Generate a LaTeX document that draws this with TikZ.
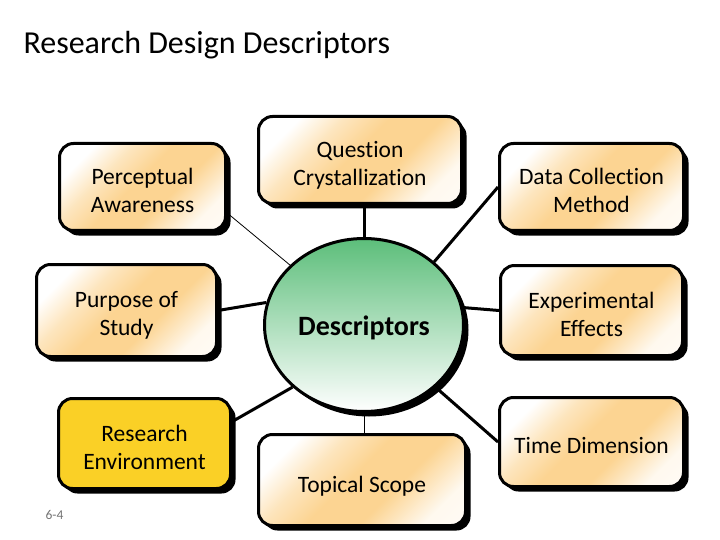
\documentclass[tikz,border=0pt]{standalone}
\usepackage{fontspec}
\setmainfont[Ligatures=NoCommon]{Carlito}
\usetikzlibrary{shapes.geometric,shadows,backgrounds,calc}
\definecolor{orangeL}{RGB}{252,212,146}
\definecolor{yellowB}{RGB}{250,208,38}
\definecolor{greenT}{RGB}{92,190,122}
\newcommand\tpstrut{\rule{0pt}{24pt}}
\pgfdeclarehorizontalshading{boxshade}{100bp}{color(0bp)=(white); color(25bp)=(white); color(36bp)=(orangeL!60!white); color(47bp)=(orangeL); color(60bp)=(orangeL); color(75bp)=(orangeL!15!white); color(100bp)=(white)}
\tikzset{
  box/.style={draw=black, line width=3pt, rounded corners=14pt, shading=boxshade, shading angle=-45,
    drop shadow={shadow xshift=5pt, shadow yshift=-5pt, fill=black, opacity=1},
    align=center, font=\fontsize{23.5}{28}\selectfont, inner sep=0pt},
  hub/.style={ellipse, draw=black, line width=3pt, top color=greenT, bottom color=white,
    drop shadow={shadow xshift=5pt, shadow yshift=-5pt, fill=black, opacity=1},
    font=\fontsize{28}{32}\selectfont\bfseries, inner sep=0pt, minimum width=199pt, minimum height=173pt},
  conn/.style={line width=3pt},
  thinconn/.style={line width=0.8pt},
}
\begin{document}
\begin{tikzpicture}[x=1pt,y=-1pt]
\useasboundingbox (0,0) rectangle (720,540);
\node[anchor=west, font=\fontsize{32}{36}\selectfont] (title) at (20,45) {Research Design Descriptors};
\node[anchor=west, font=\fontsize{13.5}{15}\selectfont, text=black!55] (pg) at (42,515) {6-4};

\node[hub] (circ) at (364,325) {\rule{0pt}{26pt}Descriptors};
\node[box, minimum width=166pt, minimum height=87pt] (pa) at (142.5,187) {\tpstrut Perceptual\\Awareness};
\node[box, minimum width=203pt, minimum height=87pt] (qc) at (360,160) {\rule{0pt}{26pt}Question\\Crystallization};
\node[box, minimum width=184pt, minimum height=87pt] (dc) at (591.5,187) {\tpstrut Data Collection\\Method};
\node[box, minimum width=180pt, minimum height=92pt] (ps) at (126.5,310.5) {\rule{0pt}{26pt}Purpose of\\Study};
\node[box, minimum width=182pt, minimum height=90pt] (ee) at (591.5,310.5) {\tpstrut Experimental\\Effects};
\node[box, shading=axis, left color=yellowB, right color=yellowB, minimum width=172pt, minimum height=90pt] (re) at (144.5,443.5) {\tpstrut Research\\Environment};
\node[box, minimum width=184pt, minimum height=89pt] (td) at (591.5,442) {\tpstrut Time Dimension};
\node[box, minimum width=207pt, minimum height=91pt] (ts) at (362,480) {\raisebox{-12pt}[0pt][0pt]{Topical Scope}};

\begin{pgfonlayer}{background}
\draw[thinconn] (circ.141) -- (pa.-17);
\draw[conn] (circ.north) -- (circ.north |- qc.south);
\draw[conn] (circ.42) -- (dc.west);
\draw[conn] (circ.10) -- (ee.west);
\draw[conn] (circ.167) -- (ps.east);
\draw[conn] (circ.221) -- (re.14);
\draw[conn] (circ.-41) -- (td.west);
\draw[thinconn] (circ.south) -- (circ.south |- ts.north);
\end{pgfonlayer}
\end{tikzpicture}
\end{document}
